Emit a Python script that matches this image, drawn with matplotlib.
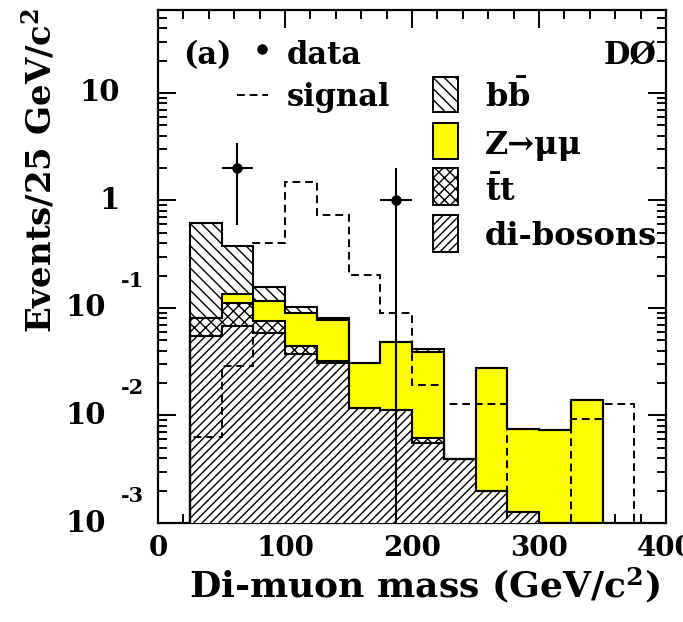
import numpy as np
import matplotlib
matplotlib.use("Agg")
import matplotlib.pyplot as plt
from matplotlib.ticker import MultipleLocator, LogLocator, NullFormatter, FixedLocator
from matplotlib.patches import Rectangle
from matplotlib.lines import Line2D

plt.rcParams['font.family'] = ['DejaVu Serif']
plt.rcParams['font.weight'] = 'bold'
plt.rcParams['mathtext.fontset'] = 'custom'
plt.rcParams['mathtext.rm'] = 'DejaVu Serif:bold'
plt.rcParams['mathtext.bf'] = 'DejaVu Serif:bold'
plt.rcParams['mathtext.it'] = 'DejaVu Serif:bold'
plt.rcParams['hatch.linewidth'] = 1.0

# ---------------- data ----------------
bin_edges = [25, 50, 75, 100, 125, 150, 175, 200, 225, 250, 275, 300, 325, 350]
dibosons = [0.055, 0.068, 0.058, 0.0375, 0.031, 0.0118, 0.0113, 0.0056, 0.0039, 0.0020, 0.00126, 0.0005, 0.0004]
ttbar    = [0.026, 0.042, 0.018, 0.007, 0.001, 0.0, 0.0, 0.0006, 0.0, 0.0, 0.0, 0.0, 0.0]
zmumu    = [0.0, 0.026, 0.041, 0.046, 0.045, 0.019, 0.037, 0.033, 0.0, 0.0258, 0.0062, 0.0068, 0.0136]
bbbar    = [0.529, 0.244, 0.041, 0.0126, 0.004, 0.0, 0.0, 0.002, 0.0, 0.0, 0.0, 0.0, 0.0]

signal_edges = [25, 50, 75, 100, 125, 150, 175, 200, 225, 250, 275, 300, 325, 350, 375]
signal = [0.0063, 0.029, 0.40, 1.47, 0.725, 0.204, 0.090, 0.0193, 0.0128, 0.0128, 0.0, 0.0, 0.0093, 0.0128]

data_x = [62.5, 187.5]
data_y = [2.0, 1.0]
data_xerr = 12.5

ytick_vals = [10, 1, 0.1, 0.01, 0.001]
xtick_vals = [0, 100, 200, 300, 400]

# ---------------- figure ----------------
fig = plt.figure(figsize=(6.83, 6.22), dpi=100)
W, H = 683, 622
x0, x1, ytop, ybot = 158, 666, 10, 523
ax = fig.add_axes([x0 / W, 1 - ybot / H, (x1 - x0) / W, (ybot - ytop) / H])
ax.set_xlim(0, 400)
ax.set_yscale('log')
ax.set_ylim(1e-3, 59)

edges = np.array(bin_edges, float)
db = np.array(dibosons)
c1 = db
c2 = c1 + np.array(ttbar)
c3 = c2 + np.array(zmumu)
c4 = c3 + np.array(bbbar)
base = 1e-5

# fills, from top of stack down
ax.stairs(c4, edges, baseline=base, fill=True, facecolor='white', edgecolor='black',
          hatch='\\\\\\', linewidth=0, zorder=1)
ax.stairs(c3, edges, baseline=base, fill=True, facecolor='#ffff00', edgecolor='#ffff00',
          linewidth=0, zorder=2)
ax.stairs(c2, edges, baseline=base, fill=True, facecolor='white', edgecolor='black',
          hatch='xxx', linewidth=0, zorder=3)
ax.stairs(c1, edges, baseline=base, fill=True, facecolor='white', edgecolor='black',
          hatch='////', linewidth=0, zorder=4)
for c in (c1, c2, c3, c4):
    ax.stairs(c, edges, baseline=base, fill=False, color='black', linewidth=1.5, zorder=5)

# signal
sig = np.maximum(np.array(signal), base)
ax.stairs(sig, np.array(signal_edges, float), baseline=base, fill=False, color='black',
          linewidth=1.4, linestyle=(0, (4, 2.5)), zorder=6)

# data
dy = np.array(data_y)
err_hi = np.sqrt(dy)
lo = np.maximum(dy - np.sqrt(dy), base)
ax.errorbar(data_x, dy, xerr=data_xerr, yerr=[dy - lo, err_hi], fmt='o', color='black',
            ms=6.5, elinewidth=1.5, capsize=0, zorder=7)

# ---------------- axes styling ----------------
for s in ax.spines.values():
    s.set_linewidth(1.6)
ax.xaxis.set_major_locator(FixedLocator(xtick_vals))
ax.xaxis.set_minor_locator(MultipleLocator(20))
ax.yaxis.set_major_locator(FixedLocator(ytick_vals))
ax.yaxis.set_minor_locator(LogLocator(base=10, subs=np.arange(2, 10)))
ax.yaxis.set_major_formatter(NullFormatter())
ax.yaxis.set_minor_formatter(NullFormatter())
ax.tick_params(which='both', direction='in', top=True, right=True, width=1.4)
ax.tick_params(which='major', length=13)
ax.tick_params(which='minor', length=6.5)
ax.tick_params(axis='x', which='major', labelsize=20, pad=9)
for lab in ax.get_xticklabels():
    lab.set_fontweight('bold')

# y tick labels, ROOT style
ytr = ax.get_yaxis_transform()
for v in ytick_vals:
    e = int(round(np.log10(v)))
    if e == 1:
        ax.text((120 - x0) / (x1 - x0), v, '10', transform=ytr, ha='right', va='center',
                fontsize=21, fontweight='bold')
    elif e == 0:
        ax.text((120 - x0) / (x1 - x0), v, '1', transform=ytr, ha='right', va='center',
                fontsize=21, fontweight='bold')
    else:
        ax.text((106 - x0) / (x1 - x0), v, '10', transform=ytr, ha='right', va='center',
                fontsize=21, fontweight='bold', clip_on=False)
        ax.text((121 - x0) / (x1 - x0), v * 10 ** (27 / 107.5), str(e), transform=ytr,
                ha='left', va='center', fontsize=15, fontweight='bold', clip_on=False)

# axis titles
fig.text(660 / W, 1 - 585 / H, 'Di-muon mass (GeV/c$^{2}$)', ha='right', va='center',
         fontsize=26, fontweight='bold')
fig.text(40 / W, 1 - 8 / H, 'Events/25 GeV/c$^{2}$', ha='center', va='top', rotation=90,
         fontsize=24.5, fontweight='bold')

# ---------------- legend ----------------
def ax_xy(px, py):
    return (px - x0) / (x1 - x0), (ybot - py) / (ybot - ytop)

t = ax.transAxes
ax.text(*ax_xy(183, 64), '(a)', transform=t, ha='left', va='baseline', fontsize=22, fontweight='bold')
ax.plot(*[[a] for a in ax_xy(262, 49)], 'o', color='black', ms=6.5, transform=t, clip_on=False)
ax.text(*ax_xy(287, 64), 'data', transform=t, ha='left', va='baseline', fontsize=22, fontweight='bold')
ax.text(*ax_xy(656, 64), 'DØ', transform=t, ha='right', va='baseline', fontsize=22, fontweight='bold')
lx0, ly = ax_xy(237, 95)
lx1, _ = ax_xy(268, 95)
ax.add_line(Line2D([lx0, lx1], [ly, ly], color='black', lw=1.4, linestyle=(0, (4, 2.5)), transform=t))
ax.text(*ax_xy(287, 106), 'signal', transform=t, ha='left', va='baseline', fontsize=22, fontweight='bold')

boxes = [
    (77, 112, 'white', '\\\\\\', r'$\mathrm{b\bar{b}}$', 107),
    (123, 159, '#ffff00', None, 'Z→μμ', 154),
    (168, 205, 'white', 'xxx', r'$\mathrm{\bar{t}t}$', 201),
    (215, 252, 'white', '////', 'di-bosons', 245),
]
for (ytp, ybt, fc, hatch, label, base_y) in boxes:
    bx0, by0 = ax_xy(433, ybt)
    bx1, by1 = ax_xy(458, ytp)
    ax.add_patch(Rectangle((bx0, by0), bx1 - bx0, by1 - by0, transform=t, facecolor=fc,
                           edgecolor='black', hatch=hatch, linewidth=1.4, zorder=8))
    ax.text(*ax_xy(485, base_y), label, transform=t, ha='left', va='baseline',
            fontsize=23, fontweight='bold', zorder=8)

fig.savefig('out.png', dpi=100)
